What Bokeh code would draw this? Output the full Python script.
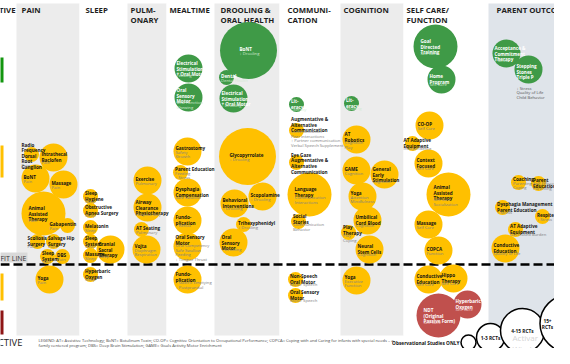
from bokeh.plotting import figure
from bokeh.models import Range1d, ColumnDataSource
from bokeh.embed import file_html
from bokeh.resources import INLINE
from bokeh.core.properties import value

# ---------------- data ----------------
col_names = ["PAIN", "SLEEP", "PULM-\nONARY", "MEALTIME", "DROOLING &\nORAL HEALTH",
             "COMMUNI-\nCATION", "COGNITION", "SELF CARE/\nFUNCTION", "PARENT OUTCOMES"]
col_left = [16, 79, 127, 166, 214, 279, 340, 403, 488]
col_right = [79, 127, 166, 214, 279, 340, 403, 488, 620]
col_shade = ["g", "w", "g", "w", "g", "w", "g", "w", "b"]

# evidence: 0 observational only, 1 = 1-3 RCTs, 2 = 4-15 RCTs, 3 = 15+ RCTs
# rating: g effective, y probably/possibly, r ineffective
names = [
    "Radio\nFrequency\nDorsal\nRoot\nGanglion", "Intrathecal\nBaclofen", "BoNT", "Massage",
    "Animal\nAssisted\nTherapy", "Gabapentin", "Scoliosis\nSurgery", "Salvage Hip\nSurgery",
    "Sleep\nSystem", "DBS", "Yoga",
    "Sleep\nHygiene", "Obstructive\nApnea Surgery", "Melatonin", "Sleep\nSystem", "Massage",
    "Cranial\nSacral\nTherapy", "Hyperbaric\nOxygen",
    "Exercise", "Airway\nClearance\nPhysiotherapy", "AT Seating", "Vojta",
    "Electrical\nStimulation\n+ Oral Motor", "Oral\nSensory\nMotor", "Gastrostomy",
    "Parent Education", "Dysphagia\nCompensation", "Fundo-\nplication", "Oral Sensory\nMotor",
    "Fundo-\nplication",
    "BoNT", "Dental", "Electrical\nStimulation\n+ Oral Motor", "Glycopyrrolate", "Scopolamine",
    "Behavioral\nInterventions", "Trihexyphenidyl", "Oral\nSensory\nMotor",
    "Lit-\neracy", "Augmentative &\nAlternative\nCommunication",
    "Eye Gaze\nAugmentative &\nAlternative\nCommunication", "Language\nTherapy",
    "Social\nStories", "Non-Speech\nOral Motor", "Oral Sensory\nMotor",
    "Lit-\neracy", "AT\nRobotics", "GAME", "General\nEarly\nStimulation", "Yoga",
    "Umbilical\nCord Blood", "Play\nTherapy", "Neural\nStem Cells", "Yoga",
    "Goal\nDirected\nTraining", "Home\nProgram", "CO-OP", "AT Adaptive\nEquipment",
    "Context\nFocused", "Animal\nAssisted\nTherapy", "Massage", "COPCA", "Conductive\nEducation",
    "Hippo\nTherapy", "NDT\n(Original\nPassive Form)", "Hyperbaric\nOxygen",
    "Acceptance &\nCommitment\nTherapy", "Stepping\nStones\nTriple P", "Coaching",
    "Parent\nEducation", "Dysphagia Management\nParent Education", "Respite",
    "AT Adaptive\nEquipment", "Conductive\nEducation",
]
outcomes = [
    "Pain", "Pain", "Pain", "Pain", "Pain", "Pain", "Pain", "Pain", "Pain", "Pain", "Pain",
    "Sleep", "Sleep", "Sleep", "Sleep", "Sleep", "Sleep", "Sleep",
    "Pulmonary", "Hospital Stay", "Pulmonary", "Diaphragm\nRespiration",
    "Feeding", "Oral Function\nChewing", "Safety\nGrowth", "Feeding\n\u2193 Stress", "Safe Swallow",
    "\u2193 Reflux", "Oral Competency\nSafe Swallow\nFeeding\n\u2193 Tongue Thrust",
    "\u2193 Gastric Emptying\n\u2193 Postprandial",
    "\u2193 Drooling", "Dental Health", "\u2193 Drooling", "\u2193 Drooling", "\u2193 Drooling",
    "\u2193 Drooling", "\u2193 Drooling", "\u2193 Drooling",
    "Literacy", "Communication\nPeer interactions\n\u2191 Partner communication\nVerbal Speech Supplement",
    "Communication", "Communication\nInteractions", "Communication\nBehavior",
    "Motor Speech", "Motor Speech",
    "Reading", "Cognition\nPlay", "Cognition", "Cognition", "Attention\nMindfulness",
    "Cognition", "Play\nCoping", "Cognition", "Executive\nFunction",
    "Self Care", "Self Care", "Self Care", "Independence", "Self Care",
    "Self Care\nSocialization", "Self Care", "Function", "Self Care", "Self Care",
    "Self Care", "Self Care",
    "\u2193 Stress", "\u2193 Stress\nQuality of Life\nChild Behavior",
    "Parenting Self-Efficacy\nCoping", "Parenting", "\u2193 Stress", "\u2193 Stress",
    "Decreased Burden", "Quality of Life",
]
bx = [31, 53, 35, 63, 43, 67, 37, 53, 47, 62, 49,
      90, 90, 90, 90, 90, 110, 90,
      147, 147, 141, 146,
      188, 188, 187, 180, 187, 187, 187, 187,
      248, 226, 233, 247, 262, 234, 243, 233,
      296, 296, 296, 309, 298, 295, 295,
      351, 356, 356, 384, 362, 367, 348, 369, 356,
      435, 441, 429, 412, 428, 448, 428, 438, 428, 453, 438, 467,
      506, 528, 518, 538, 502, 542, 515, 505]
by = [154, 157, 178, 184, 213, 225, 241, 241, 256, 256, 279,
      196, 210, 227, 241, 255, 249, 274,
      180, 207, 229, 249,
      68, 97, 151, 172, 192, 220, 246, 279,
      50, 77, 98, 156, 196, 203, 224, 242,
      104, 130, 162, 194, 221, 279, 295,
      103, 139, 170, 174, 196, 220, 232, 249, 280,
      46, 79, 125, 143, 163, 194, 224, 250, 279, 278, 315, 304,
      53, 69, 182, 183, 207, 216, 229, 248]
evidence = [0, 1, 1, 1, 2, 0, 0, 0, 0, 0, 1,
            0, 0, 0, 0, 0, 1, 0,
            1, 1, 0, 1,
            1, 1, 1, 0, 1, 1, 1, 1,
            3, 0, 1, 3, 1, 1, 0, 1,
            0, 0, 0, 2, 0, 0, 0,
            0, 1, 1, 1, 1, 1, 0, 1, 1,
            2, 1, 1, 0, 1, 2, 1, 1, 1, 1, 2, 1,
            1, 1, 0, 0, 0, 0, 0, 1]
rating = ["y"] * 11 + ["y"] * 7 + ["y"] * 4 + ["g", "g"] + ["y"] * 6 + \
         ["g", "g", "g"] + ["y"] * 5 + ["g"] + ["y"] * 6 + ["g"] + ["y"] * 8 + \
         ["g", "g"] + ["y"] * 8 + ["r", "r"] + ["g", "g"] + ["y"] * 6
label_shift = [0] * len(names)
label_shift[0] = -4.5
label_shift[5] = -12.5
label_shift[6] = -4.5
label_shift[30] = 9
label_shift[57] = -3.5
outcome_below = [False] * len(names)
outcome_below[67] = True

legend_labels = ["Observational Studies ONLY", "1-3 RCTs", "4-15 RCTs", "15+\nRCTs"]
legend_evidence = [0, 1, 2, 3]
legend_x = [468, 490, 522, 568]
legend_y = [342, 337, 330, 323]

legend_text = ["LEGEND: AT= Assistive Technology; BoNT= Botulinum Toxin; CO-OP= Cognitive Orientation to Occupational Performance; COPCA= Coping with and Caring for infants with special needs \u2013 a",
               "family centered program; DBS= Deep Brain Stimulation; GAME= Goals Activity Motor Enrichment"]

# ---------------- styles ----------------
RADIUS = {0: 7.5, 1: 14, 2: 22, 3: 28.5}
DX = {0: -5.5, 1: -12, 2: -15, 3: -18}
FILL = {"g": "#3f9a47", "y": "#ffc000", "r": "#c0504d"}
NAME_C = {"g": "white", "y": "#141414", "r": "white"}
OUT_C = {"g": "#d3ead3", "y": "#808080", "r": "#f3d2d1"}
SHADE = {"g": "#ececec", "w": "white", "b": "#dfe4ea"}
FONT = value("Open Sans")
NAME_LH, OUT_LH = 4.3, 4.0

p = figure(width=554, height=348, x_range=Range1d(0, 554), y_range=Range1d(348, 0),
           output_backend="svg", toolbar_location=None, min_border=0,
           x_axis_location=None, y_axis_location=None)
p.grid.visible = False
p.outline_line_color = None
p.background_fill_color = "white"

# column backgrounds
p.quad(left=col_left, right=col_right, top=[3] * 9, bottom=[335] * 9,
       fill_color=[SHADE[s] for s in col_shade], line_color=None)

# left effectiveness bars
p.quad(left=[-10, -10, -10, -10], right=[3, 3, 3, 3], top=[57, 145, 273, 310],
       bottom=[82, 177, 300, 334], fill_color=["#12960f", "#ffc000", "#ffc000", "#8e1616"],
       line_color=None)
p.text(x=[15], y=[4.5], text=["EFFECTIVE"], text_font=FONT, text_font_size="7.8px",
       text_font_style="bold", text_align="right", text_baseline="top", text_color="#222222")
p.text(x=[22], y=[342], text=["INEFFECTIVE"], text_font=FONT, text_font_size="9.5px",
       text_align="right", text_baseline="middle", text_color="#222222")

# headers
hx = [21, 85, 130, 169, 220, 287, 343, 406, 496]
p.text(x=hx, y=[4.5] * 9, text=col_names, text_font=FONT, text_font_size="7.8px",
       text_font_style="bold", text_baseline="top", text_line_height=0.97, text_color="#1e1e1e")

# benefit line
p.quad(left=[-10], right=[27], top=[252], bottom=[262], fill_color="#d9d9d9", line_color=None)
p.text(x=[26], y=[257.5], text=["BENEFIT LINE"], text_font=FONT, text_font_size="7px",
       text_align="right", text_baseline="middle", text_color="#333333")
p.line(x=[0, 600], y=[264, 264], line_color="black", line_width=2.5, line_dash="9 4")

# bubbles
n = len(names)
src = ColumnDataSource(dict(
    x=bx, y=by, r=[RADIUS[e] for e in evidence], fill=[FILL[c] for c in rating]))
p.circle(x="x", y="y", radius="r", fill_color="fill", line_color=None, source=src)

nx, ny, nt, nc, ox, oy, ot, oc = [], [], [], [], [], [], [], []
for i in range(n):
    nn = names[i].count("\n") + 1
    no = outcomes[i].count("\n") + 1
    lx = bx[i] + DX[evidence[i]] + label_shift[i]
    if outcome_below[i]:
        top = by[i] - nn * NAME_LH / 2
        nx.append(lx); ny.append(top); nt.append(names[i]); nc.append(NAME_C[rating[i]])
        ox.append(lx); oy.append(by[i] + RADIUS[evidence[i]] + 2); ot.append(outcomes[i])
        oc.append("#555555")
        continue
    top = by[i] - (nn * NAME_LH + no * OUT_LH) / 2
    nx.append(lx); ny.append(top); nt.append(names[i]); nc.append(NAME_C[rating[i]])
    ox.append(lx); oy.append(top + nn * NAME_LH); ot.append(outcomes[i]); oc.append(OUT_C[rating[i]])

p.text(x=nx, y=ny, text=nt, text_color=nc, text_font=FONT, text_font_size="4.6px",
       text_font_style="bold", text_baseline="top", text_line_height=0.93)
p.text(x=ox, y=oy, text=ot, text_color=oc, text_font=FONT, text_font_size="4.2px",
       text_baseline="top", text_line_height=0.95)

# legend text
p.text(x=[38, 38], y=[339.5, 344.5], text=legend_text, text_font=FONT, text_font_size="4.1px",
       text_baseline="middle", text_color="#454545")

# evidence legend circles
p.circle(x=legend_x, y=legend_y, radius=[RADIUS[e] for e in legend_evidence],
         fill_color="white", line_color="black", line_width=1.5)
p.text(x=[legend_x[0] - 9], y=[legend_y[0]], text=[legend_labels[0]], text_font=FONT,
       text_font_size="4.8px", text_font_style="bold", text_align="right",
       text_baseline="middle", text_color="#111111")
p.text(x=legend_x[1:3] + [547], y=legend_y[1:], text=legend_labels[1:], text_font=FONT,
       text_font_size="4.8px", text_font_style="bold", text_align="center",
       text_baseline="middle", text_line_height=1.0, text_color="#111111")

# screen watermark seen on the reference
p.text(x=[512], y=[342], text=["Activar\nWindows"], text_font=FONT, text_font_size="8px",
       text_baseline="middle", text_line_height=1.0, text_color="#c8c8c8", text_alpha=0.8)

open("out.html", "w").write(file_html(p, INLINE))
